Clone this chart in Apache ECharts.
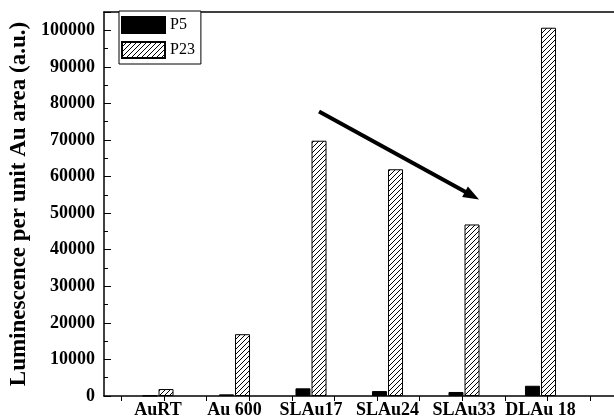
<!DOCTYPE html>
<html><head><meta charset="utf-8">
<script src="https://cdn.jsdelivr.net/npm/echarts@6/dist/echarts.min.js"></script>
<style>html,body{margin:0;padding:0;background:#fff}#c{width:614px;height:420px}</style>
</head><body><div id="c"></div>
<script>
const categories = ['AuRT', 'Au 600', 'SLAu17', 'SLAu24', 'SLAu33', 'DLAu 18'];
const p5 = [100, 450, 2100, 1350, 1100, 2800];
const p23 = [1900, 16900, 69800, 62000, 46900, 100700];
const yTicks = { min: 0, max: 105000, interval: 10000 };
const arrowFrom = [2, 77800];
const arrowTo = [4, 54800];

function hatch() {
  const s = 5, c = document.createElement('canvas');
  c.width = s; c.height = s;
  const g = c.getContext('2d');
  g.fillStyle = '#fff'; g.fillRect(0, 0, s, s);
  g.strokeStyle = '#000'; g.lineWidth = 1;
  g.beginPath();
  g.moveTo(-1, s + 1); g.lineTo(s + 1, -1);
  g.moveTo(-1, 1); g.lineTo(1, -1);
  g.moveTo(s - 1, s + 1); g.lineTo(s + 1, s - 1);
  g.stroke();
  return c;
}
const font = 'Liberation Serif';
const chart = echarts.init(document.getElementById('c'), null, { renderer: 'canvas' });
const gridBase = { top: 12, bottom: 24, containLabel: false, outerBoundsMode: 'none' };
chart.setOption({
  animation: false,
  backgroundColor: '#fff',
  textStyle: { fontFamily: font },
  legend: {
    left: 119, top: 11, orient: 'vertical',
    itemWidth: 43, itemHeight: 16, itemGap: 7, icon: 'rect',
    padding: [5, 6, 5, 2],
    borderColor: '#000', borderWidth: 1, backgroundColor: '#fff',
    textStyle: { fontFamily: font, fontSize: 16, color: '#000' },
    data: ['P5', 'P23']
  },
  grid: [
    Object.assign({ left: 104, right: 0 }, gridBase),
    Object.assign({ left: 119.75, width: 459 }, gridBase),
    Object.assign({ left: 121.5, width: 511.2 }, gridBase)
  ],
  xAxis: [
    { gridIndex: 0, type: 'value', min: 0, max: 1, position: 'bottom',
      axisLine: { lineStyle: { color: '#000', width: 1.5 } }, axisTick: { show: false },
      axisLabel: { show: false }, splitLine: { show: false } },
    { gridIndex: 0, type: 'value', min: 0, max: 1, position: 'top',
      axisLine: { lineStyle: { color: '#000', width: 1.5 } }, axisTick: { show: false },
      axisLabel: { show: false }, splitLine: { show: false } },
    { gridIndex: 1, type: 'category', data: categories, position: 'bottom',
      axisLine: { show: false }, axisTick: { show: false },
      axisLabel: { fontFamily: font, fontSize: 18, fontWeight: 'bold', color: '#000', margin: 5, interval: 0 } },
    { gridIndex: 2, type: 'value', min: 0, max: 12, interval: 1, position: 'top',
      axisLine: { show: false }, axisTick: { show: true, inside: true, length: 5, lineStyle: { color: '#000' } },
      axisLabel: { show: false }, splitLine: { show: false } }
  ],
  yAxis: [
    { gridIndex: 0, type: 'value', min: yTicks.min, max: yTicks.max, interval: yTicks.interval,
      name: 'Luminescence per unit Au area (a.u.)', nameLocation: 'middle', nameGap: 67,
      nameTextStyle: { fontFamily: font, fontSize: 23, fontWeight: 'bold', color: '#000' },
      axisLine: { show: true, lineStyle: { color: '#000', width: 1.5 } },
      axisTick: { show: true, inside: true, length: 7, lineStyle: { color: '#000' } },
      minorTick: { show: true, splitNumber: 2, length: 4, lineStyle: { color: '#000' } },
      axisLabel: { fontFamily: font, fontSize: 18, fontWeight: 'bold', color: '#000', margin: 9,
        showMaxLabel: false, formatter: v => String(v) },
      splitLine: { show: false } },
    { gridIndex: 1, type: 'value', min: yTicks.min, max: yTicks.max, interval: yTicks.interval, show: false },
    { gridIndex: 2, type: 'value', min: 0, max: 1, show: false }
  ],
  series: [
    { name: 'P5', type: 'bar', xAxisIndex: 2, yAxisIndex: 1, data: p5,
      barWidth: 15, barGap: '7%',
      itemStyle: { color: '#000', borderColor: '#000', borderWidth: 1 } },
    { name: 'P23', type: 'bar', xAxisIndex: 2, yAxisIndex: 1, data: p23,
      barWidth: 15, barGap: '7%',
      itemStyle: { color: { image: hatch(), repeat: 'repeat' }, borderColor: '#000', borderWidth: 1 },
      markLine: {
        silent: true, symbol: ['none', 'triangle'], symbolSize: [12, 16],
        label: { show: false },
        lineStyle: { color: '#000', width: 4, type: 'solid' },
        data: [[{ coord: arrowFrom }, { coord: arrowTo }]]
      } }
  ]
});
</script></body></html>
